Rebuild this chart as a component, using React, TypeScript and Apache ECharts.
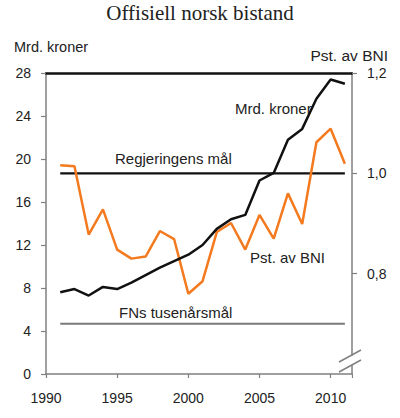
import { useEffect, useRef } from 'react';
import * as echarts from 'echarts';

// Årstall og verdier lest av figuren
const years = [1991, 1992, 1993, 1994, 1995, 1996, 1997, 1998, 1999, 2000, 2001, 2002, 2003, 2004, 2005, 2006, 2007, 2008, 2009, 2010, 2011];
const mrdKroner = [7.6, 7.9, 7.3, 8.1, 7.9, 8.5, 9.2, 9.9, 10.5, 11.1, 12.0, 13.5, 14.4, 14.8, 18.0, 18.7, 21.8, 22.8, 25.6, 27.4, 27.0];
const pstAvBni = [1.016, 1.014, 0.878, 0.928, 0.848, 0.83, 0.834, 0.885, 0.869, 0.76, 0.785, 0.883, 0.901, 0.848, 0.917, 0.87, 0.96, 0.899, 1.062, 1.089, 1.019];

// Målsettinger (prosent av BNI)
const goalYears = [1991, 2011];
const regjeringensMal = 1.0;
const fnsTusenarsmal = 0.7;

const FONT = '"Liberation Sans", Arial, sans-serif';

export default function App() {
  const chartRef = useRef<HTMLDivElement>(null);

  useEffect(() => {
    if (!chartRef.current) return;
    const chart = echarts.init(chartRef.current, undefined, { renderer: 'svg' });

    const option = {
      animation: false,
      title: {
        text: 'Offisiell norsk bistand',
        left: 'center',
        top: 0,
        padding: [2, 0, 0, 0],
        textStyle: {
          fontFamily: '"Liberation Serif", "Times New Roman", serif',
          fontSize: 21,
          fontWeight: 'normal',
          color: '#222',
        },
      },
      grid: { left: 46, right: 48, top: 73, bottom: 44 },
      xAxis: [
        {
          type: 'value',
          min: 1990,
          max: 2011.5,
          interval: 5,
          splitLine: { show: false },
          axisLine: { lineStyle: { color: '#808080', width: 1.5 } },
          axisTick: { show: true, length: 4, lineStyle: { color: '#808080', width: 1.2 } },
          axisLabel: {
            margin: 17,
            fontFamily: FONT,
            fontSize: 14,
            color: '#222',
            formatter: (v: number) => (v % 5 === 0 ? String(v) : ''),
          },
        },
        {
          type: 'value',
          position: 'top',
          min: 1990,
          max: 2011.5,
          splitLine: { show: false },
          axisLine: { show: true, lineStyle: { color: '#111', width: 2.5 } },
          axisTick: { show: false },
          axisLabel: { show: false },
        },
      ],
      yAxis: [
        {
          type: 'value',
          min: 0,
          max: 28,
          interval: 4,
          splitLine: { show: false },
          axisLine: { show: true, lineStyle: { color: '#808080', width: 1.5 } },
          axisTick: { show: true, length: 5, lineStyle: { color: '#808080', width: 1.2 } },
          axisLabel: { margin: 15, fontFamily: FONT, fontSize: 14, color: '#222' },
        },
        {
          type: 'value',
          position: 'right',
          min: 0.6,
          max: 1.2,
          interval: 0.2,
          splitLine: { show: false },
          axisLine: { show: true, lineStyle: { color: '#808080', width: 1.5 } },
          axisTick: { show: true, length: 5, lineStyle: { color: '#808080', width: 1.2 } },
          axisLabel: {
            margin: 15,
            fontFamily: FONT,
            fontSize: 14,
            color: '#222',
            formatter: (v: number) => (v < 0.7 ? '' : v.toFixed(1).replace('.', ',')),
          },
        },
      ],
      series: [
        {
          name: 'FNs tusenårsmål',
          type: 'line',
          yAxisIndex: 1,
          data: goalYears.map((y) => [y, fnsTusenarsmal]),
          showSymbol: false,
          lineStyle: { color: '#7a7a7a', width: 2 },
        },
        {
          name: 'Regjeringens mål',
          type: 'line',
          yAxisIndex: 1,
          data: goalYears.map((y) => [y, regjeringensMal]),
          showSymbol: false,
          lineStyle: { color: '#111', width: 2.2 },
        },
        {
          name: 'Pst. av BNI',
          type: 'line',
          yAxisIndex: 1,
          data: years.map((y, i) => [y, pstAvBni[i]]),
          showSymbol: false,
          lineStyle: { color: '#f47a1f', width: 2.5 },
        },
        {
          name: 'Mrd. kroner',
          type: 'line',
          yAxisIndex: 0,
          data: years.map((y, i) => [y, mrdKroner[i]]),
          showSymbol: false,
          lineStyle: { color: '#111', width: 2.5 },
        },
      ],
      graphic: [
        { type: 'text', x: 14, y: 47, style: { text: 'Mrd. kroner', font: `14.5px ${FONT}`, fill: '#222', verticalAlign: 'middle' } },
        { type: 'text', x: 388, y: 55, style: { text: 'Pst. av BNI', font: `15.5px ${FONT}`, fill: '#222', align: 'right', verticalAlign: 'middle' } },
        { type: 'text', x: 115, y: 158, style: { text: 'Regjeringens mål', font: `15px ${FONT}`, fill: '#222', verticalAlign: 'middle' } },
        { type: 'text', x: 119, y: 312, style: { text: 'FNs tusenårsmål', font: `15px ${FONT}`, fill: '#222', verticalAlign: 'middle' } },
        { type: 'text', x: 235, y: 108, style: { text: 'Mrd. kroner', font: `15px ${FONT}`, fill: '#222', verticalAlign: 'middle' } },
        { type: 'text', x: 250, y: 257, style: { text: 'Pst. av BNI', font: `15px ${FONT}`, fill: '#222', verticalAlign: 'middle' } },
        // brudd i høyre akse
        { type: 'rect', shape: { x: 353, y: 371, width: 8, height: 6 }, style: { fill: '#fff' }, z: 100 },
        { type: 'polygon', shape: { points: [[339, 363], [361, 351], [361, 360], [339, 372]] }, style: { fill: '#fff' }, z: 100 },
        { type: 'line', shape: { x1: 339, y1: 362, x2: 361, y2: 350 }, style: { stroke: '#808080', lineWidth: 1.5 }, z: 101 },
        { type: 'line', shape: { x1: 339, y1: 372, x2: 361, y2: 360 }, style: { stroke: '#808080', lineWidth: 1.5 }, z: 101 },
      ],
    };

    chart.setOption(option);
    return () => {
      chart.dispose();
    };
  }, []);

  return (
    <div
      ref={chartRef}
      style={{ position: 'fixed', left: 0, top: 0, width: '400px', height: '418px', background: '#fff' }}
    ></div>
  );
}
